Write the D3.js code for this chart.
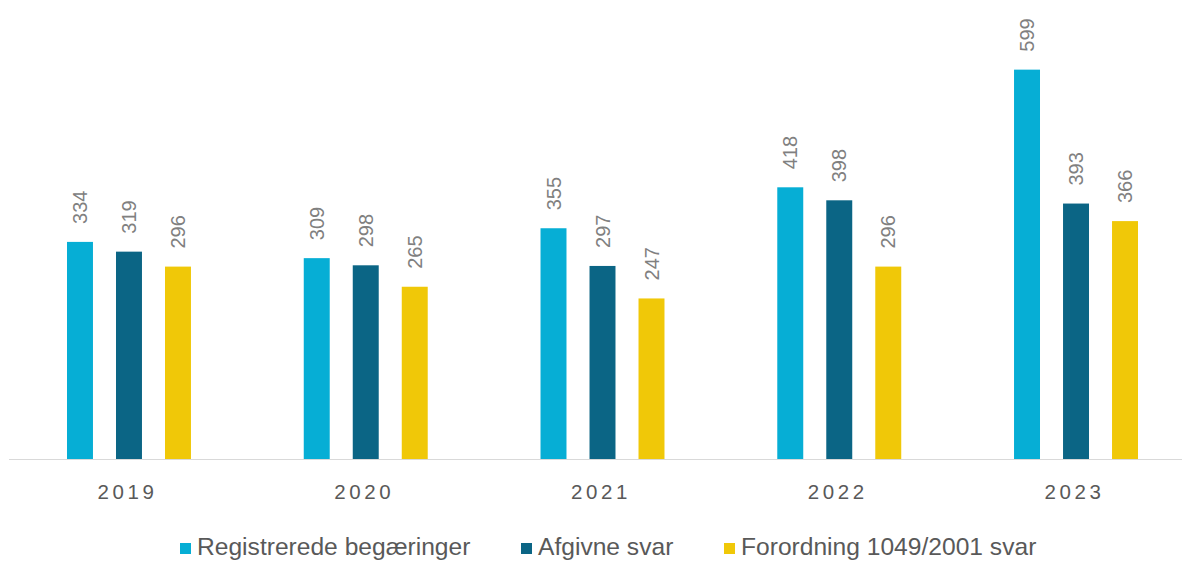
<!DOCTYPE html>
<html><head><meta charset="utf-8">
<script src="https://cdn.jsdelivr.net/npm/d3@7"></script>
<style>
html,body{margin:0;padding:0;background:#fff;}
svg{display:block;font-family:"Liberation Sans",Arial,sans-serif;}
</style></head>
<body>
<svg id="chart" width="1182" height="561"></svg>
<script>
const years = ["2019","2020","2021","2022","2023"];
const seriesNames = ["Registrerede begæringer","Afgivne svar","Forordning 1049/2001 svar"];
const registrerede = [334,309,355,418,599];
const afgivne = [319,298,297,398,393];
const forordning = [296,265,247,296,366];
const colors = ["#06AED5","#0B6585","#F0C808"];

const seriesValues = [registrerede, afgivne, forordning];
const svg = d3.select("#chart");

const x = d3.scaleBand().domain(years).range([10.6, 1194.4]);
const xInner = d3.scaleBand().domain(seriesNames).range([-73.5, 73.5]).paddingInner(0.47).paddingOuter(0.235);
const y = d3.scaleLinear().domain([0, 700]).range([459, 4]);

// baseline
svg.append("line").attr("x1", 9).attr("x2", 1182).attr("y1", y(0)+0.5).attr("y2", y(0)+0.5)
  .attr("stroke", "#d9d9d9").attr("stroke-width", 1);

const data = [];
years.forEach((yr, i) => seriesNames.forEach((s, j) => data.push({yr, s, j, v: seriesValues[j][i]})));

const g = svg.append("g");
g.selectAll("rect").data(data).enter().append("rect")
  .attr("x", d => x(d.yr) + x.bandwidth()/2 + xInner(d.s))
  .attr("width", xInner.bandwidth())
  .attr("y", d => y(d.v))
  .attr("height", d => y(0) - y(d.v))
  .attr("fill", d => colors[d.j]);

g.selectAll("text.lbl").data(data).enter().append("text")
  .attr("class","lbl")
  .attr("transform", d => `translate(${x(d.yr) + x.bandwidth()/2 + xInner(d.s) + xInner.bandwidth()/2},${y(d.v) - 18}) rotate(-90)`)
  .attr("dy", "0.36em")
  .attr("text-anchor", "start")
  .attr("font-size", 20)
  .attr("fill", "#808080")
  .text(d => d.v);

// x axis labels
const xAxis = d3.axisBottom(x).tickSize(0).tickPadding(0);
const ax = svg.append("g").attr("transform", `translate(0,${y(0)})`).call(xAxis);
ax.select(".domain").remove();
ax.selectAll("text")
  .attr("y", 40).attr("dy", 0).attr("x", -1.5)
  .attr("font-size", 20.5)
  .attr("font-family", "Liberation Sans, Arial, sans-serif")
  .attr("letter-spacing", "3.6px")
  .attr("fill", "#595959");

// legend
const legendX = [180, 521, 724];
const leg = svg.append("g");
seriesNames.forEach((s, j) => {
  leg.append("rect").attr("x", legendX[j]).attr("y", 543).attr("width", 11).attr("height", 11).attr("fill", colors[j]);
  leg.append("text").attr("x", legendX[j] + 17).attr("y", 555)
    .attr("font-size", 24.6).attr("fill", "#595959").text(s);
});
</script>
</body></html>
